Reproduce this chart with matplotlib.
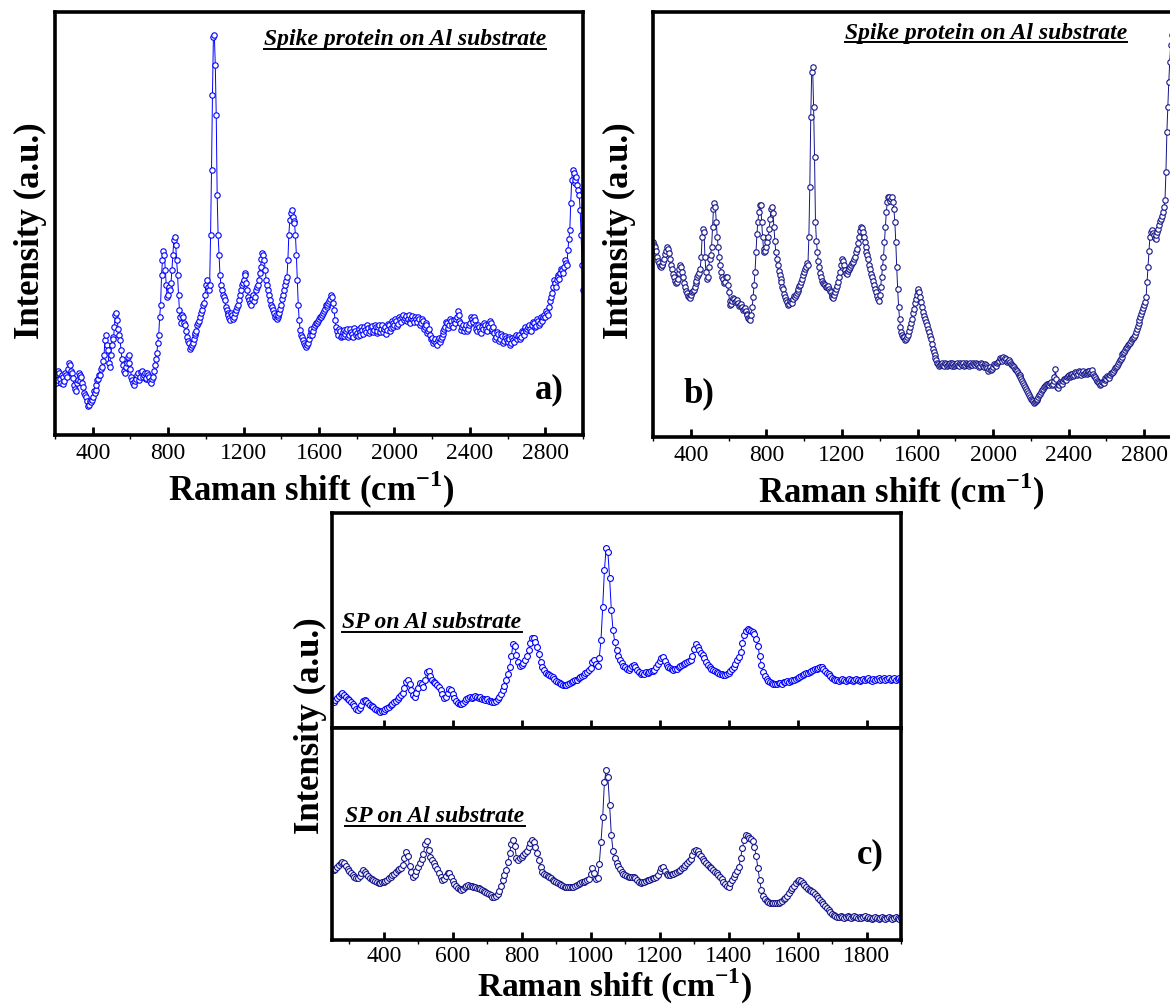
import numpy as np
import matplotlib
matplotlib.use("Agg")
import matplotlib.pyplot as plt
from matplotlib.lines import Line2D
from matplotlib.ticker import MultipleLocator

plt.rcParams['font.family'] = 'Liberation Serif'
plt.rcParams['mathtext.fontset'] = 'custom'
plt.rcParams['mathtext.rm'] = 'Liberation Serif'
plt.rcParams['mathtext.bf'] = 'Liberation Serif:bold'

# panel a: spike protein on Al, 200-3000 cm-1 (intensity a.u.)
# readings on the 10 cm-1 grid ...
shift_a = np.arange(200, 3001, 10)
int_a = [
    60, 55, 62, 52, 58, 54, 60, 66, 70, 62,
    50, 44, 55, 60, 58, 48, 40, 34, 30, 33,
    38, 42, 50, 56, 60, 68, 80, 100, 85, 68,
    90, 96, 120, 115, 100, 85, 70, 62, 72, 80,
    66, 55, 50, 56, 62, 58, 64, 60, 56, 62,
    58, 52, 58, 70, 82, 100, 130, 175, 180, 150,
    140, 145, 165, 195, 190, 160, 125, 112, 118, 110,
    98, 92, 88, 92, 100, 104, 112, 118, 125, 132,
    150, 148, 150, 265, 398, 370, 240, 180, 150, 140,
    135, 125, 120, 115, 120, 118, 125, 130, 140, 150,
    155, 160, 145, 135, 130, 140, 138, 148, 155, 168,
    182, 175, 155, 145, 135, 128, 122, 120, 118, 122,
    130, 140, 150, 158, 200, 222, 218, 212, 180, 130,
    105, 98, 92, 88, 92, 100, 106, 104, 110, 112,
    116, 118, 122, 126, 128, 132, 136, 138, 125, 108,
    100, 104, 99, 105, 101, 106, 100, 103, 98, 104,
    102, 106, 100, 105, 108, 103, 107, 104, 109, 105,
    108, 104, 110, 106, 103, 108, 105, 110, 107, 112,
    110, 114, 111, 116, 118, 115, 119, 116, 114, 117,
    115, 118, 113, 116, 112, 114, 108, 110, 104, 100,
    97, 94, 92, 95, 93, 98, 104, 108, 112, 110,
    114, 108, 112, 118, 120, 112, 108, 104, 110, 106,
    112, 116, 118, 110, 104, 108, 102, 106, 110, 104,
    108, 112, 106, 102, 98, 101, 96, 99, 94, 97,
    93, 96, 92, 95, 98, 96, 100, 98, 103, 106,
    104, 108, 106, 110, 112, 109, 114, 112, 116, 118,
    118, 122, 128, 138, 148, 152, 155, 158, 162, 165,
    168, 172, 185, 205, 255, 262, 255, 250, 240, 200,
    145,
]
# ... and the points lying in between them (205, 215, ...)
shift_a_mid = np.arange(205, 3000, 10)
int_a_mid = [
    52, 64, 56, 60, 51, 62, 58, 72, 64, 57,
    46, 52, 62, 54, 52, 42, 38, 29, 34, 35,
    44, 45, 55, 60, 66, 74, 95, 90, 72, 80,
    98, 108, 122, 106, 95, 76, 64, 68, 78, 72,
    58, 52, 54, 60, 55, 63, 58, 62, 57, 60,
    54, 56, 64, 76, 92, 118, 160, 184, 165, 138,
    148, 152, 180, 198, 175, 140, 118, 120, 112, 104,
    94, 86, 90, 96, 102, 110, 114, 122, 130, 140,
    155, 145, 200, 340, 400, 320, 200, 160, 145, 138,
    128, 122, 117, 122, 116, 122, 128, 135, 145, 152,
    162, 152, 138, 132, 136, 134, 145, 150, 162, 176,
    180, 165, 150, 140, 130, 125, 118, 116, 120, 126,
    136, 145, 154, 175, 215, 225, 214, 200, 155, 115,
    100, 95, 90, 90, 96, 104, 100, 108, 112, 114,
    118, 120, 124, 130, 130, 134, 140, 132, 115, 104,
    106, 98, 103, 99, 104, 98, 106, 101, 107, 100,
    99, 103, 108, 101, 105, 110, 102, 108, 103, 110,
    102, 108, 103, 110, 106, 101, 111, 104, 114, 108,
    116, 109, 118, 113, 120, 117, 114, 120, 112, 119,
    113, 116, 118, 110, 116, 106, 112, 102, 106, 96,
    92, 96, 90, 97, 96, 101, 106, 113, 107, 116,
    110, 115, 116, 124, 114, 105, 110, 107, 104, 110,
    118, 113, 115, 106, 110, 104, 108, 112, 106, 110,
    114, 104, 108, 96, 103, 94, 101, 92, 99, 95,
    98, 90, 97, 93, 100, 99, 96, 104, 100, 108,
    106, 110, 104, 113, 108, 116, 110, 118, 114, 120,
    124, 120, 134, 142, 155, 148, 160, 156, 166, 162,
    175, 170, 196, 232, 265, 252, 258, 245, 225, 170,
]

# panel b: spike protein on Al (second spot), 200-3000 cm-1
shift_b = np.arange(200, 3001, 10)
int_b = [
    195, 190, 180, 174, 170, 172, 178, 186, 188, 178,
    168, 160, 154, 158, 168, 170, 160, 150, 144, 140,
    142, 146, 150, 156, 162, 168, 200, 205, 165, 160,
    178, 190, 228, 230, 200, 180, 165, 158, 155, 160,
    145, 132, 136, 138, 136, 134, 132, 130, 128, 126,
    122, 118, 122, 140, 165, 203, 225, 232, 200, 185,
    190, 200, 218, 230, 210, 185, 172, 162, 155, 148,
    140, 135, 133, 135, 138, 140, 144, 148, 152, 158,
    165, 170, 172, 250, 365, 330, 215, 185, 170, 160,
    154, 152, 150, 148, 145, 140, 142, 148, 155, 165,
    178, 172, 164, 166, 168, 172, 175, 180, 188, 200,
    210, 205, 195, 185, 178, 168, 160, 152, 145, 138,
    142, 160, 180, 210, 235, 240, 238, 235, 215, 170,
    130, 110, 102, 100, 98, 102, 110, 118, 128, 138,
    146, 145, 135, 125, 118, 112, 105, 98, 88, 82,
    77, 73, 72, 74, 71, 73, 72, 74, 71, 73,
    72, 74, 71, 73, 74, 72, 73, 71, 74, 72,
    73, 74, 72, 71, 73, 70, 72, 69, 68, 67,
    70, 72, 74, 76, 78, 79, 77, 78, 76, 75,
    72, 70, 67, 64, 62, 58, 54, 50, 46, 42,
    38, 36, 35, 37, 40, 43, 47, 50, 52, 53,
    54, 52, 56, 68, 50, 52, 54, 56, 58, 60,
    62, 61, 63, 62, 64, 63, 65, 64, 63, 65,
    64, 66, 65, 63, 60, 56, 54, 53, 55, 57,
    58, 60, 62, 64, 67, 70, 73, 77, 80, 84,
    87, 90, 93, 96, 99, 102, 108, 114, 120, 126,
    132, 140, 170, 200, 207, 202, 198, 205, 212, 218,
    225, 237, 305, 355, 392, 410, 418, 422, 424, 424,
    420,
]
shift_b_mid = np.arange(205, 3000, 10)
int_b_mid = [
    192, 186, 176, 171, 172, 175, 183, 190, 184, 172,
    163, 156, 155, 164, 172, 165, 154, 146, 141, 139,
    145, 147, 154, 160, 164, 180, 208, 180, 158, 170,
    182, 210, 234, 215, 190, 172, 160, 154, 160, 152,
    136, 133, 139, 135, 137, 131, 133, 127, 129, 123,
    119, 117, 130, 152, 185, 215, 232, 215, 188, 186,
    195, 208, 228, 224, 196, 178, 166, 158, 150, 143,
    137, 132, 136, 134, 141, 142, 146, 151, 155, 162,
    168, 174, 200, 320, 370, 280, 196, 176, 164, 156,
    153, 150, 151, 146, 142, 139, 145, 151, 160, 172,
    176, 167, 163, 168, 170, 174, 178, 185, 194, 206,
    209, 200, 190, 182, 172, 163, 156, 148, 141, 136,
    150, 170, 195, 225, 240, 236, 240, 228, 195, 148,
    118, 105, 100, 97, 100, 106, 114, 124, 134, 142,
    148, 140, 130, 121, 115, 108, 101, 93, 85, 79,
    74, 71, 73, 72, 74, 71, 73, 72, 74, 71,
    73, 72, 74, 72, 71, 74, 72, 73, 72, 74,
    72, 73, 70, 74, 71, 73, 70, 66, 70, 68,
    73, 71, 75, 79, 76, 80, 79, 75, 77, 73,
    71, 68, 66, 62, 60, 56, 52, 48, 44, 40,
    37, 34, 36, 38, 42, 45, 48, 51, 53, 52,
    55, 53, 60, 58, 49, 55, 53, 58, 57, 61,
    60, 63, 61, 65, 62, 66, 62, 66, 64, 63,
    66, 64, 67, 61, 58, 55, 52, 55, 54, 59,
    61, 59, 64, 65, 69, 71, 75, 78, 83, 85,
    89, 92, 94, 98, 100, 105, 111, 117, 123, 129,
    135, 155, 186, 205, 204, 199, 202, 208, 216, 221,
    230, 265, 330, 375, 402, 414, 420, 423, 424, 422,
]

# panel c: SP on Al substrate, 250-1900 cm-1, 5 cm-1 step
shift_c = np.arange(250, 1901, 5)
int_c_top = [
    27, 26, 28, 30, 32, 34, 35, 33, 31, 29, 28, 26, 24, 22, 19, 18, 20, 23, 27, 28,
    27, 25, 23, 22, 21, 19, 18, 17, 16, 17, 17, 19, 20, 21, 23, 24, 26, 27, 29, 31,
    33, 35, 40, 46, 48, 44, 38, 33, 31, 35, 40, 45, 44, 41, 48, 56, 57, 52, 48, 46,
    45, 43, 41, 38, 34, 30, 31, 35, 39, 38, 34, 30, 27, 25, 24, 24, 25, 27, 29, 30,
    31, 30, 31, 32, 31, 30, 31, 29, 29, 28, 29, 27, 27, 26, 26, 27, 29, 31, 34, 38,
    42, 48, 54, 61, 72, 84, 82, 73, 66, 62, 63, 65, 68, 72, 78, 85, 90, 90, 86, 81,
    74, 66, 61, 58, 55, 54, 53, 52, 51, 49, 47, 46, 45, 44, 43, 43, 43, 44, 45, 46,
    47, 48, 48, 50, 51, 52, 53, 55, 56, 58, 60, 66, 68, 64, 62, 70, 88, 121, 158, 180,
    176, 150, 118, 98, 86, 78, 72, 68, 65, 62, 61, 59, 58, 60, 62, 63, 61, 58, 56, 54,
    55, 54, 56, 55, 56, 57, 57, 58, 61, 64, 67, 70, 71, 67, 63, 61, 60, 59, 58, 59,
    59, 61, 62, 63, 64, 65, 66, 67, 68, 72, 79, 84, 81, 78, 75, 73, 70, 66, 63, 61,
    59, 58, 57, 56, 55, 54, 54, 53, 53, 54, 55, 57, 59, 61, 64, 68, 71, 76, 85, 93,
    97, 99, 98, 97, 96, 94, 89, 82, 72, 63, 56, 52, 49, 47, 46, 45, 44, 44, 44, 45,
    45, 44, 46, 46, 47, 46, 47, 48, 48, 49, 50, 51, 52, 53, 54, 55, 55, 56, 57, 58,
    59, 59, 60, 61, 61, 59, 57, 55, 54, 52, 50, 49, 48, 48, 47, 48, 49, 48, 47, 48,
    49, 48, 47, 48, 49, 48, 47, 48, 49, 48, 49, 50, 48, 47, 49, 48, 49, 50, 48, 49,
    50, 48, 49, 50, 48, 49, 50, 48, 49, 50, 49,
]
int_c_bot = [
    70, 70, 71, 73, 75, 77, 78, 77, 74, 71, 69, 67, 65, 63, 62, 62, 64, 67, 70, 68,
    66, 64, 62, 61, 60, 59, 58, 57, 57, 58, 58, 59, 60, 62, 63, 65, 66, 68, 70, 71,
    72, 75, 82, 88, 84, 74, 68, 63, 65, 69, 73, 77, 81, 86, 96, 99, 90, 83, 80, 77,
    74, 71, 67, 63, 60, 61, 64, 67, 67, 63, 59, 56, 54, 52, 51, 50, 51, 53, 54, 55,
    54, 54, 53, 53, 52, 52, 51, 50, 49, 48, 47, 46, 45, 43, 43, 44, 46, 49, 54, 60,
    65, 70, 78, 87, 96, 100, 94, 82, 80, 82, 83, 85, 87, 89, 93, 97, 100, 98, 93, 87,
    80, 73, 68, 66, 65, 64, 63, 62, 60, 59, 58, 57, 56, 55, 54, 53, 53, 53, 53, 53,
    53, 54, 55, 56, 57, 58, 58, 59, 60, 61, 66, 72, 67, 61, 62, 76, 98, 123, 158, 170,
    163, 135, 105, 89, 82, 77, 74, 71, 68, 66, 65, 64, 63, 63, 63, 63, 62, 60, 58, 57,
    58, 58, 59, 60, 60, 61, 62, 62, 63, 65, 69, 72, 73, 69, 66, 65, 65, 66, 66, 67,
    68, 69, 70, 72, 73, 75, 77, 79, 81, 85, 89, 90, 89, 86, 84, 81, 79, 77, 75, 73,
    72, 70, 68, 67, 65, 63, 61, 58, 56, 54, 53, 57, 60, 63, 66, 69, 73, 82, 92, 100,
    105, 104, 102, 101, 99, 93, 84, 72, 60, 50, 44, 41, 39, 38, 37, 37, 37, 37, 37, 37,
    38, 39, 41, 42, 44, 47, 50, 52, 54, 57, 59, 60, 59, 57, 55, 53, 51, 50, 49, 48,
    46, 44, 42, 40, 38, 36, 34, 32, 30, 28, 26, 25, 24, 23, 23, 24, 23, 22, 23, 24,
    23, 22, 23, 24, 23, 22, 23, 22, 23, 24, 22, 23, 22, 21, 22, 23, 22, 21, 22, 23,
    22, 21, 22, 23, 22, 21, 22, 23, 22, 21, 22,
]

BLUE = '#0000ff'
NAVY = '#14148c'
W, H = 1170, 1008


def fx(x):
    return x / W


def fy(y):
    return 1 - y / H


def add_axes(fig, left, top, right, bottom):
    return fig.add_axes([fx(left), fy(bottom), fx(right - left), (bottom - top) / H])


def merge(x1, y1, x2, y2):
    x = np.concatenate([x1, x2])
    y = np.concatenate([y1, y2])
    order = np.argsort(x)
    return x[order], y[order]


def draw_spectrum(ax, x, y, color, ms=3.9):
    ax.plot(x, y, '-o', color=color, lw=0.7, ms=ms, mfc='white', mec=color, mew=0.8)


def style_axes(ax, xlim, ylim, major, minor, labels=True, pad=6):
    ax.set_xlim(xlim)
    ax.set_ylim(ylim)
    ax.set_yticks([])
    ax.xaxis.set_major_locator(MultipleLocator(major))
    ax.xaxis.set_minor_locator(MultipleLocator(minor))
    ax.tick_params(axis='x', which='major', direction='in', length=6, width=2,
                   labelsize=17, pad=pad, top=False, labelbottom=labels)
    ax.tick_params(axis='x', which='minor', direction='out', length=3, width=1,
                   top=False)
    for s in ax.spines.values():
        s.set_linewidth(2.6)


fig = plt.figure(figsize=(W / 100, H / 100), dpi=100)

# a)
ax_a = add_axes(fig, 55, 12, 583, 435)
xa, ya = merge(shift_a, int_a, shift_a_mid, int_a_mid)
draw_spectrum(ax_a, xa, ya, BLUE)
style_axes(ax_a, (200, 3000), (0, 423), 400, 200)
ax_a.set_xticks([400, 800, 1200, 1600, 2000, 2400, 2800])

# b)
ax_b = add_axes(fig, 653, 12, 1182, 437)
xb, yb = merge(shift_b, int_b, shift_b_mid, int_b_mid)
draw_spectrum(ax_b, xb, yb, NAVY)
style_axes(ax_b, (200, 3000), (0, 425), 400, 200)
ax_b.set_xticks([400, 800, 1200, 1600, 2000, 2400, 2800])

# c) two stacked spectra
ax_c1 = add_axes(fig, 332, 513, 901, 728)
draw_spectrum(ax_c1, shift_c, int_c_top, BLUE, ms=4.2)
style_axes(ax_c1, (250, 1900), (0, 215), 200, 100, labels=False)
ax_c2 = add_axes(fig, 332, 728, 901, 940)
draw_spectrum(ax_c2, shift_c, int_c_bot, NAVY, ms=4.2)
style_axes(ax_c2, (250, 1900), (0, 212), 200, 100, pad=4)

bold = dict(fontweight='bold', ha='center', va='center')
xlab = r'Raman shift (cm$^{\mathbf{-1}}$)'
fig.text(fx(311), fy(490), xlab, fontsize=25, **bold)
fig.text(fx(901), fy(492), xlab, fontsize=25, **bold)
fig.text(fx(615), fy(1006), xlab, fontsize=24, fontweight='bold',
         ha='center', va='bottom')
fig.text(fx(30), fy(231), 'Intensity (a.u.)', fontsize=25, rotation=90, **bold)
fig.text(fx(619), fy(231), 'Intensity (a.u.)', fontsize=25, rotation=90, **bold)
fig.text(fx(310), fy(726), 'Intensity (a.u.)', fontsize=25, rotation=90, **bold)

fig.text(fx(549), fy(390), 'a)', fontsize=25, **bold)
fig.text(fx(699), fy(394), 'b)', fontsize=25, **bold)
fig.text(fx(870), fy(855), 'c)', fontsize=25, **bold)

notes = [
    fig.text(fx(405), fy(40), 'Spike protein on Al substrate', fontsize=17,
             fontstyle='italic', **bold),
    fig.text(fx(986), fy(33), 'Spike protein on Al substrate', fontsize=17,
             fontstyle='italic', **bold),
    fig.text(fx(432), fy(623), 'SP on Al substrate', fontsize=17,
             fontstyle='italic', **bold),
    fig.text(fx(435), fy(817), 'SP on Al substrate', fontsize=17,
             fontstyle='italic', **bold),
]

# underline the annotations
fig.canvas.draw()
renderer = fig.canvas.get_renderer()
for t in notes:
    bb = t.get_window_extent(renderer).transformed(fig.transFigure.inverted())
    yline = bb.y0 + 2 / H
    fig.add_artist(Line2D([bb.x0, bb.x1], [yline, yline], color='black', lw=1.4,
                          transform=fig.transFigure))

fig.savefig('out.png', dpi=100)
